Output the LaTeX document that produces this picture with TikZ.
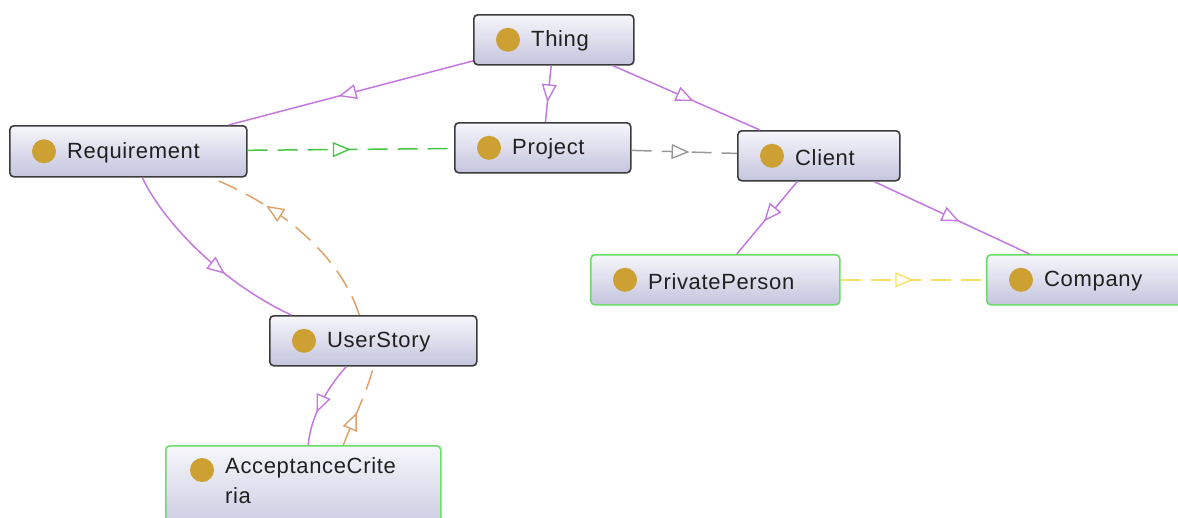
\documentclass[tikz,border=0pt]{standalone}
\usepackage{fontspec}
\setmainfont{Liberation Sans}[LetterSpace=3]
\usetikzlibrary{arrows.meta,decorations.markings}
\definecolor{dotc}{HTML}{CDA034}
\definecolor{boxtop}{HTML}{F6F6FB}
\definecolor{boxbot}{HTML}{C4C4DE}
\definecolor{darkb}{HTML}{3C3C3C}
\definecolor{greenb}{HTML}{6ADD6A}
\definecolor{purp}{HTML}{C478E0}
\definecolor{greend}{HTML}{44C844}
\definecolor{grayd}{HTML}{999999}
\definecolor{orng}{HTML}{E0A268}
\definecolor{yell}{HTML}{F8E060}
\definecolor{txtc}{HTML}{202020}
\tikzset{
  clsbox/.style={rectangle, rounded corners=4pt, line width=1.6pt, top color=boxtop, bottom color=boxbot, inner sep=0pt},
  clstext/.style={font=\fontsize{22}{30}\selectfont, text=txtc, inner sep=0pt, align=left},
  midarrow/.style={postaction={decorate}, decoration={markings, mark=at position #1 with {\arrow{Triangle[length=18pt,width=15pt,fill=white,line width=1.4pt]}}}},
  edge/.style={line width=1.5pt},
  dedge/.style={line width=1.5pt, dash pattern=on 20pt off 10pt},
}
\newcommand\owlcls[7]{%
  \node[clsbox, draw=#7, minimum width=#4pt, minimum height=#5pt, anchor=north west] (#1) at (#2,#3) {};
  \fill[dotc] ([xshift=35pt]#1.west) circle (12pt);
  \node[clstext, anchor=west] (#1-t) at ([xshift=58pt,yshift=-1.5pt]#1.west) {#6};
}
\begin{document}
\begin{tikzpicture}[x=1pt,y=-1pt]
\useasboundingbox (0,0) rectangle (1178,517);
\fill[white] (0,0) rectangle (1178,517);
\owlcls{thing}{473}{14}{160}{50}{Thing}{darkb}
\owlcls{req}{9}{125}{237}{51}{Requirement}{darkb}
\owlcls{proj}{454}{122}{176}{50}{Project}{darkb}
\owlcls{client}{737}{130}{162}{50}{Client}{darkb}
\owlcls{pp}{590}{254}{249}{50}{PrivatePerson}{greenb}
\owlcls{comp}{986}{254}{196}{50}{Company}{greenb}
\owlcls{us}{269}{315}{207}{50}{UserStory}{darkb}
% AcceptanceCriteria (two lines, cut off)
\node[clsbox, draw=greenb, minimum width=275pt, minimum height=95pt, anchor=north west] (ac) at (165,445) {};
\fill[dotc] ([xshift=37pt,yshift=-25pt]ac.north west) circle (12pt);
\node[clstext, anchor=north west] (ac-t) at ([xshift=60pt,yshift=-12pt]ac.north west) {AcceptanceCrite\\ria};
% edges
\draw[edge, purp, midarrow=0.55] (thing) -- (req);
\draw[edge, purp, midarrow=0.65] (thing) -- (proj);
\draw[edge, purp, midarrow=0.55] (thing) -- (client);
\draw[dedge, greend, midarrow=0.5] (req) -- (proj);
\draw[dedge, grayd, midarrow=0.55] (proj) -- (client);
\draw[edge, purp, midarrow=0.55] (client) -- (pp);
\draw[edge, purp, midarrow=0.55] (client) -- (comp);
\draw[dedge, yell, midarrow=0.5] (pp) -- (comp);
\draw[edge, purp, midarrow=0.62] ([xshift=14pt]req.south) .. controls (162,220) and (220,282) .. ([xshift=-82pt]us.north);
\draw[dedge, orng, midarrow=0.7] ([xshift=-14pt]us.north) .. controls (340,255) and (280,205) .. ([xshift=82pt]req.south);
\draw[edge, purp, midarrow=0.62] ([xshift=-27pt]us.south) .. controls (325,390) and (310,420) .. ([xshift=5pt]ac.north);
\draw[dedge, orng, midarrow=0.42] ([xshift=40pt]ac.north) .. controls (355,415) and (368,390) .. (us.south);
\end{tikzpicture}
\end{document}
